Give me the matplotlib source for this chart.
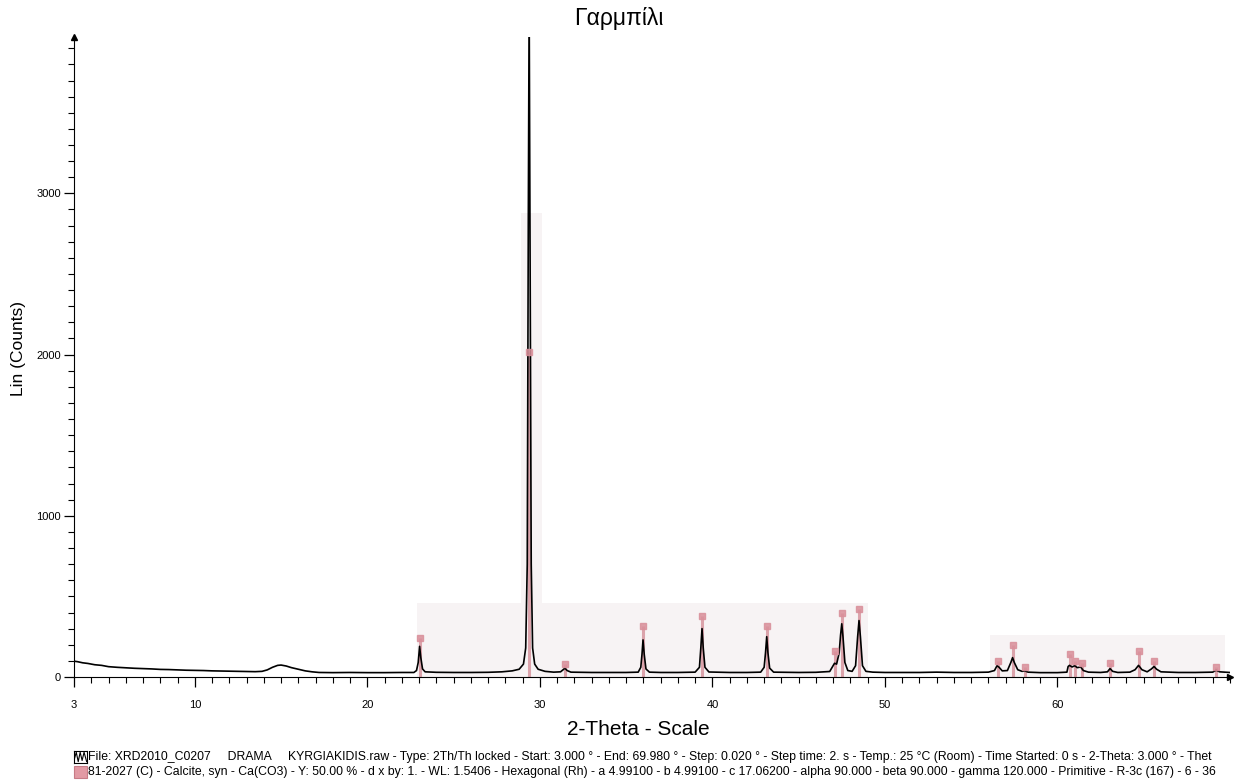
"""XRD pattern of sample 'Garmpili' with calcite reference sticks."""

import matplotlib

matplotlib.use("Agg")

import matplotlib.pyplot as plt
from matplotlib.patches import Rectangle
from matplotlib.ticker import MultipleLocator, FixedLocator

TRACE_2THETA = [
    3.0, 3.2, 3.5, 3.8, 4.2, 4.6, 5.0, 5.5, 6.0, 6.5, 7.0, 7.5, 8.0, 8.5, 9.0, 9.5,
    10.0, 10.5, 11.0, 11.5, 12.0, 12.5, 13.0, 13.5, 13.9, 14.2, 14.5, 14.8, 15.0, 15.3,
    15.6, 16.0, 16.4, 16.8, 17.2, 18.0, 19.0, 20.0, 21.0, 22.0, 22.7, 22.85, 22.95, 23.03,
    23.1, 23.2, 23.35, 24.0, 25.0, 26.0, 27.0, 27.8, 28.4, 28.8, 29.05, 29.18, 29.27, 29.33,
    29.38, 29.43, 29.5, 29.58, 29.7, 29.9, 30.3, 30.8, 31.2, 31.35, 31.45, 31.58, 31.8, 33.0,
    34.0, 35.0, 35.7, 35.85, 35.92, 35.98, 36.05, 36.15, 36.35, 37.0, 38.0, 39.0, 39.25, 39.33,
    39.4, 39.47, 39.57, 39.8, 41.0, 42.0, 42.8, 43.0, 43.08, 43.15, 43.22, 43.32, 43.55, 45.0,
    46.0, 46.8, 47.0, 47.08, 47.2, 47.35, 47.43, 47.5, 47.57, 47.68, 47.85, 48.1, 48.3, 48.42,
    48.5, 48.58, 48.7, 48.9, 49.3, 50.0, 52.0, 53.0, 54.0, 55.0, 56.0, 56.35, 56.5, 56.62,
    56.8, 57.1, 57.3, 57.4, 57.5, 57.7, 57.95, 58.1, 58.3, 59.0, 60.0, 60.55, 60.62, 60.7,
    60.85, 61.0, 61.15, 61.35, 61.5, 61.8, 62.5, 62.9, 63.05, 63.2, 63.5, 64.2, 64.5, 64.7,
    64.9, 65.2, 65.45, 65.6, 65.75, 66.0, 67.0, 68.0, 69.0, 69.2, 69.4, 69.98,
]
TRACE_COUNTS = [
    98, 95, 88, 84, 76, 72, 64, 60, 57, 54, 52, 50, 47, 46, 44, 42,
    41, 40, 38, 37, 36, 35, 34, 33, 35, 44, 60, 72, 74, 68,
    58, 48, 38, 32, 28, 27, 28, 27, 27, 28, 28, 40, 90, 190,
    120, 50, 32, 29, 28, 28, 29, 32, 38, 48, 80, 180, 700, 2800,
    4200, 2800, 700, 180, 80, 48, 35, 30, 32, 45, 55, 40, 30, 28,
    28, 28, 30, 60, 140, 230, 140, 50, 30, 28, 28, 30, 60, 180,
    300, 180, 60, 31, 28, 28, 30, 60, 150, 250, 150, 55, 30, 28,
    29, 34, 70, 85, 80, 150, 260, 330, 250, 90, 40, 35, 70, 250,
    350, 250, 70, 35, 30, 28, 28, 30, 28, 28, 30, 40, 70, 60,
    38, 40, 90, 120, 90, 45, 35, 38, 30, 27, 27, 30, 65, 72,
    62, 70, 58, 62, 40, 30, 28, 32, 52, 35, 28, 30, 45, 72,
    45, 32, 50, 65, 48, 32, 28, 28, 30, 42, 32, 28,
]

# PDF 81-2027 calcite reference lines, scaled with Y = 50 %
STICK_2THETA = [23.05, 29.40, 31.45, 35.97, 39.40, 43.15, 47.10, 47.50, 48.50, 56.55,
                57.40, 58.10, 60.70, 61.00, 61.40, 63.05, 64.70, 65.60, 69.20]
STICK_COUNTS = [242, 2015, 80, 316, 378, 316, 161, 397, 421, 102,
                200, 62, 143, 100, 85, 87, 162, 102, 62]

# faint highlighted zones behind the scan: (start, end, height)
SHADE_START = [22.9, 28.9, 56.1]
SHADE_END = [49.0, 30.1, 69.7]
SHADE_TOP = [460, 2880, 260]

TITLE = "Γαρμπίλι"
FILE_LINE = ("File: XRD2010_C0207     DRAMA     KYRGIAKIDIS.raw - Type: 2Th/Th locked - Start: 3.000 ° - "
             "End: 69.980 ° - Step: 0.020 ° - Step time: 2. s - Temp.: 25 °C (Room) - Time Started: 0 s - "
             "2-Theta: 3.000 ° - Thet")
PHASE_LINE = ("81-2027 (C) - Calcite, syn - Ca(CO3) - Y: 50.00 % - d x by: 1. - WL: 1.5406 - Hexagonal (Rh) - "
              "a 4.99100 - b 4.99100 - c 17.06200 - alpha 90.000 - beta 90.000 - gamma 120.000 - Primitive - "
              "R-3c (167) - 6 - 36")

STICK_COLOR = "#dba3ab"
FONT = "Liberation Sans"


def main() -> None:
    plt.rcParams["font.family"] = [FONT, "DejaVu Sans"]
    fig = plt.figure(figsize=(12.38, 7.84), dpi=100)
    ax = fig.add_axes([0.0598, 0.1365, 0.9337, 0.8163])

    for start, end, top in zip(SHADE_START, SHADE_END, SHADE_TOP):
        ax.add_patch(Rectangle((start, 0), end - start, top, facecolor="#f7f3f4",
                               edgecolor="none", zorder=0))

    ax.vlines(STICK_2THETA, 0, STICK_COUNTS, color=STICK_COLOR, linewidth=2.2, zorder=1)
    ax.plot(STICK_2THETA, STICK_COUNTS, linestyle="none", marker="s", markersize=4.5,
            color="#d98f9a", alpha=0.85, zorder=3)
    ax.plot(TRACE_2THETA, TRACE_COUNTS, color="black", linewidth=1.2, zorder=2)

    ax.set_xlim(3, 70)
    ax.set_ylim(0, 3970)
    for side in ("top", "right"):
        ax.spines[side].set_visible(False)
    ax.xaxis.set_major_locator(FixedLocator([3, 10, 20, 30, 40, 50, 60]))
    ax.xaxis.set_minor_locator(MultipleLocator(1))
    ax.yaxis.set_major_locator(MultipleLocator(1000))
    ax.yaxis.set_minor_locator(MultipleLocator(100))
    ax.tick_params(axis="both", which="major", length=7.5, width=0.9, labelsize=8)
    ax.tick_params(axis="both", which="minor", length=4, width=0.8)
    ax.tick_params(axis="x", which="major", pad=9)
    ax.tick_params(axis="y", which="major", pad=2)

    # small arrowheads at the ends of both axes
    ax.plot([0], [1], marker="^", markersize=4, color="black", transform=ax.transAxes, clip_on=False)
    ax.plot([1], [0], marker=">", markersize=4, color="black", transform=ax.transAxes, clip_on=False)

    fig.text(0.5, 0.977, TITLE, ha="center", va="center", fontsize=16.5)
    fig.text(0.516, 0.069, "2-Theta - Scale", ha="center", va="center", fontsize=15)
    fig.text(0.015, 0.555, "Lin (Counts)", rotation=90, ha="center", va="center", fontsize=12.5)

    fig.text(0.071, 0.034, FILE_LINE, ha="left", va="center", fontsize=8.85)
    fig.text(0.071, 0.015, PHASE_LINE, ha="left", va="center", fontsize=8.85)

    icon = fig.add_axes([0.0595, 0.027, 0.0105, 0.015])
    icon.plot([0, 0.2, 0.35, 0.5, 0.65, 0.8, 1.0], [0.1, 0.9, 0.1, 0.9, 0.2, 0.9, 0.1],
              color="black", linewidth=0.8)
    icon.set_xticks([])
    icon.set_yticks([])
    icon.set_xlim(0, 1)
    icon.set_ylim(0, 1)
    fig.patches.append(Rectangle((0.0595, 0.008), 0.0105, 0.015, transform=fig.transFigure,
                                 facecolor="#e29aa4", edgecolor="#c77b86", linewidth=0.8))

    fig.savefig("out.png", dpi=100)
    plt.close(fig)


if __name__ == "__main__":
    main()
